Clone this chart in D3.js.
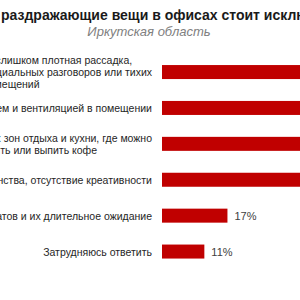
<!DOCTYPE html>
<html>
<head>
<meta charset="utf-8">
<script src="https://cdn.jsdelivr.net/npm/d3@7"></script>
<style>
  html, body { margin: 0; padding: 0; background: #fff; overflow: hidden; }
  svg { display: block; }
</style>
</head>
<body>
<svg id="chart" width="300" height="300"></svg>
<script>
const title = 'Какие раздражающие вещи в офисах стоит исключить?'
const subtitle = 'Иркутская область'

// each category is a list of wrapped lines
const categories = [
  ['Планировка офисов: слишком плотная рассадка,', 'нет комнат для конфиденциальных разговоров или тихих', 'помещений'],
  ['Проблемы с отоплением, кондиционированием и вентиляцией в помещении'],
  ['Отсутствие удобных зон отдыха и кухни, где можно', 'перекусить или выпить кофе'],
  ['Серость и однообразие пространства, отсутствие  креативности'],
  ['Нехватка автоматов и их длительное ожидание'],
  ['Затрудняюсь ответить']
]
// first four bars run off the right edge, values estimated
const values = [44, 41, 39, 37, 17, 11]

const svg = d3.select('#chart')
const font = '"Liberation Sans", Arial, sans-serif'

const x = d3.scaleLinear().domain([0, 100]).range([162, 547])
const y = d3.scaleBand()
  .domain(d3.range(categories.length))
  .range([54.1, 269.5])
  .paddingInner(0.61)
  .paddingOuter(0.305)

// title, shifted so the crop starts at "раздражающие"
const t = svg.append('text')
  .attr('y', 20)
  .style('font-family', font)
  .style('font-size', '14px')
  .style('font-weight', 'bold')
  .attr('fill', '#1a1a1a')
  .text('Какие р')
const w1 = t.node().getComputedTextLength()
t.text('р')
const prefixW = w1 - t.node().getComputedTextLength()
t.text(title).attr('x', 1 - prefixW)

svg.append('text')
  .attr('x', 149)
  .attr('y', 36)
  .attr('text-anchor', 'middle')
  .style('font-family', font)
  .style('font-size', '13px')
  .style('font-style', 'italic')
  .attr('fill', '#808080')
  .text(subtitle)

// bars
svg.append('g').selectAll('rect').data(values).enter()
  .append('rect')
  .attr('x', x(0))
  .attr('y', (d, i) => y(i))
  .attr('width', d => x(d) - x(0))
  .attr('height', y.bandwidth())
  .attr('fill', '#c00000')

// value labels
svg.append('g').selectAll('text').data(values).enter()
  .append('text')
  .attr('x', d => x(d) + 7)
  .attr('y', (d, i) => y(i) + y.bandwidth() / 2 + 4)
  .style('font-family', font)
  .style('font-size', '11px')
  .attr('fill', '#404040')
  .text(d => d + '%')

// category labels, lines centred on a block whose right edge is at 152
const lineH = 12
const labels = svg.append('g').selectAll('g').data(categories).enter()
  .append('g')

labels.each(function(lines, i) {
  const g = d3.select(this)
  const cy = y(i) + y.bandwidth() / 2
  const txt = g.selectAll('text').data(lines).enter()
    .append('text')
    .attr('y', (d, k) => cy + (k - (lines.length - 1) / 2) * lineH + 4)
    .attr('text-anchor', 'middle')
    .style('font-family', font)
    .style('font-size', '10.5px')
    .attr('fill', '#262626')
    .text(d => d)
  const maxW = d3.max(txt.nodes(), n => n.getComputedTextLength())
  txt.attr('x', 152 - maxW / 2)
})
</script>
</body>
</html>
